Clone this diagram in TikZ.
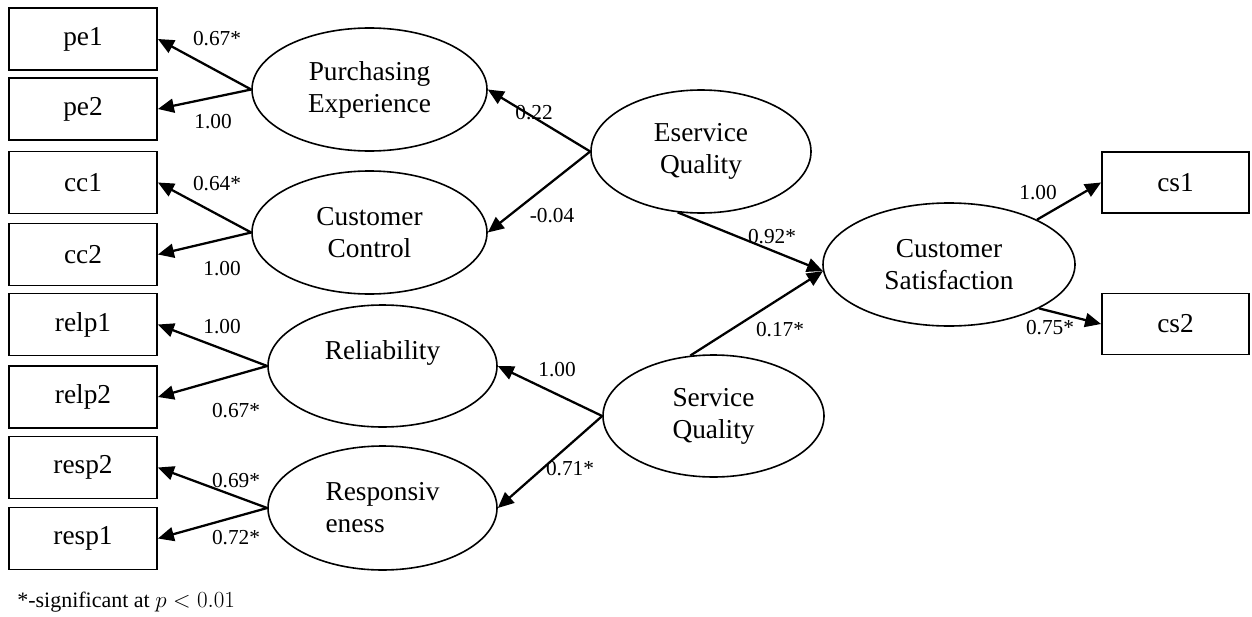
\documentclass[tikz,border=0pt]{standalone}
\usepackage{fontspec}
\setmainfont{Liberation Serif}
\usetikzlibrary{shapes.geometric,arrows.meta}
\newcommand{\upx}{0.75pt}
\tikzset{
  obsbox/.style={draw, line width=1.4pt, rectangle, minimum width=148*\upx, minimum height=62*\upx, inner sep=0pt, font=\fontsize{20.5}{24}\selectfont},
  latent/.style={draw, line width=1.2pt, ellipse, inner sep=0pt, align=center, font=\fontsize{20.5}{24}\selectfont},
  path/.style={line width=1.7pt, -{Triangle[length=12pt,width=10.5pt]}},
  coef/.style={font=\fontsize{16}{19}\selectfont, inner sep=0pt},
}
\begin{document}
\begin{tikzpicture}[x=0.75pt,y=-0.75pt]
\useasboundingbox (0,0) rectangle (1252,617);
% observed boxes
\node[obsbox] (pe1) at (83,39) {pe1};
\node[obsbox] (pe2) at (83,109) {pe2};
\node[obsbox] (cc1) at (83,182.5) {cc1};
\node[obsbox] (cc2) at (83,254.5) {cc2};
\node[obsbox] (relp1) at (83,324.5) {relp1};
\node[obsbox] (relp2) at (83,397) {relp2};
\node[obsbox] (resp2) at (83,467.5) {resp2};
\node[obsbox] (resp1) at (83,538.5) {resp1};
\node[obsbox, minimum width=147*\upx, minimum height=61*\upx] (cs1) at (1175.5,182.5) {cs1};
\node[obsbox, minimum width=147*\upx, minimum height=61*\upx] (cs2) at (1175.5,324) {cs2};
% latent ellipses
\node[latent, minimum width=235*\upx, minimum height=123*\upx] (PE) at (369.5,89.5) {Purchasing\\Experience};
\node[latent, minimum width=235*\upx, minimum height=123*\upx] (CC) at (369.5,232.5) {Customer\\Control};
\node[latent, minimum width=229*\upx, minimum height=122*\upx] (REL) at (382.5,366) {Reliability\\\mbox{}};
\node[latent, minimum width=229*\upx, minimum height=124*\upx, align=left] (RESP) at (382.5,508) {Responsiv\\eness};
\node[latent, minimum width=220*\upx, minimum height=123*\upx] (ESQ) at (701,151.5) {Eservice\\Quality};
\node[latent, minimum width=221*\upx, minimum height=122*\upx] (SQ) at (713.5,416) {Service\\Quality};
\node[latent, minimum width=252*\upx, minimum height=123*\upx] (CS) at (949,264.5) {Customer\\Satisfaction};
% paths
\draw[path] (PE.west) -- (pe1.east);
\draw[path] (PE.west) -- (pe2.east);
\draw[path] (CC.west) -- (cc1.east);
\draw[path] (CC.west) -- (cc2.east);
\draw[path] (REL.west) -- (relp1.east);
\draw[path] (REL.west) -- (relp2.east);
\draw[path] (RESP.west) -- (resp2.east);
\draw[path] (RESP.west) -- (resp1.east);
\draw[path] (ESQ.west) -- (PE.east);
\draw[path] (ESQ.west) -- (CC.east);
\draw[path] (SQ.west) -- (REL.east);
\draw[path] (SQ.west) -- (RESP.east);
\draw[path] (ESQ.249) -- (CS.183);
\draw[path] (SQ.111) -- (CS.183);
\draw[path] (CS.27) -- (cs1.west);
\draw[path] (CS.-26) -- (cs2.west);
% coefficients
\node[coef] (l1) at (217,39) {0.67*};
\node[coef] (l2) at (213,122) {1.00};
\node[coef] (l3) at (217,184) {0.64*};
\node[coef] (l4) at (222,269) {1.00};
\node[coef] (l5) at (222,327) {1.00};
\node[coef] (l6) at (236,411) {0.67*};
\node[coef] (l7) at (236,481) {0.69*};
\node[coef] (l8) at (236,538) {0.72*};
\node[coef] (l9) at (534,113) {0.22};
\node[coef] (l10) at (552,216) {-0.04};
\node[coef] (l11) at (772,237) {0.92*};
\node[coef] (l12) at (780,330) {0.17*};
\node[coef] (l13) at (1038,193) {1.00};
\node[coef] (l14) at (1050,328) {0.75*};
\node[coef] (l15) at (557,370) {1.00};
\node[coef] (l16) at (570,469) {0.71*};
% footnote
\node[anchor=west, inner sep=0pt, font=\fontsize{16.5}{19}\selectfont] (note) at (17,602) {*-significant at $p<0.01$};
\end{tikzpicture}
\end{document}
